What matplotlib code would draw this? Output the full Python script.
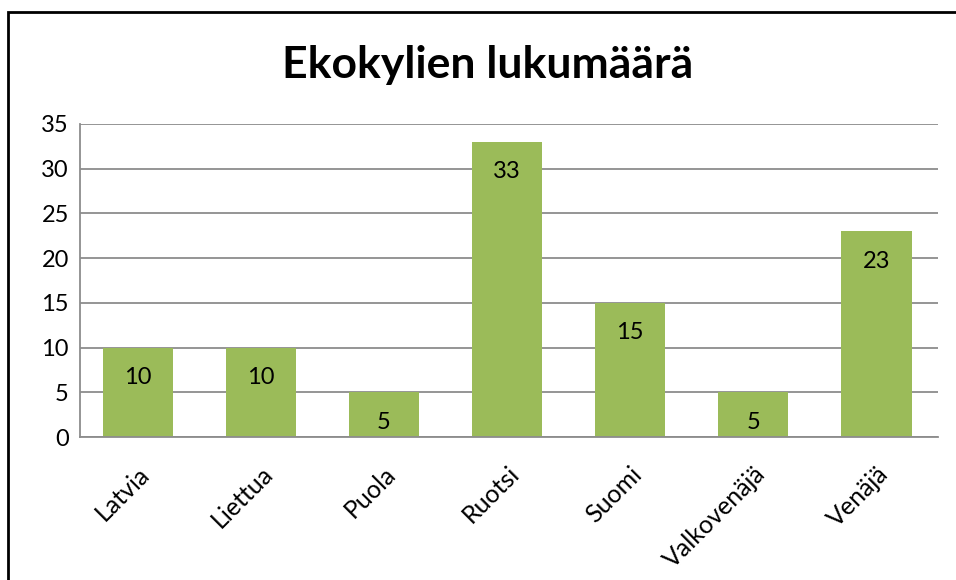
import matplotlib.pyplot as plt
from matplotlib.patches import Rectangle
import numpy as np

# data
countries = ["Latvia", "Liettua", "Puola", "Ruotsi", "Suomi", "Valkovenäjä", "Venäjä"]
counts = [10, 10, 5, 33, 15, 5, 23]
yticks = [0, 5, 10, 15, 20, 25, 30, 35]
title = "Ekokylien lukumäärä"

plt.rcParams['font.family'] = ['Lato', 'DejaVu Sans']

W, H = 956, 580
fig = plt.figure(figsize=(W / 100, H / 100), dpi=100)

# chart frame (cropped on right and bottom)
fig.patches.append(Rectangle((8 / W, -0.2), 2, 1.2 - 12 / H, transform=fig.transFigure,
                             fill=False, edgecolor="black", linewidth=2))

ax = fig.add_axes([80 / W, (H - 437) / H, (938 - 80) / W, (437 - 124) / H])

x = np.arange(len(countries))
bars = ax.bar(x, counts, width=0.57, color="#9BBB59", zorder=2)

ax.set_xlim(-0.47, len(countries) - 0.5)
ax.set_ylim(0, 35)
ax.set_yticks(yticks)
ax.set_yticklabels([str(t) for t in yticks], fontsize=17)
ax.grid(axis="y", color="#8c8c8c", linewidth=1.3, zorder=0)
ax.set_axisbelow(True)

for s in ["top", "right"]:
    ax.spines[s].set_visible(False)
ax.spines["left"].set_color("#8c8c8c")
ax.spines["bottom"].set_color("#8c8c8c")
ax.spines["left"].set_linewidth(1.3)
ax.spines["bottom"].set_linewidth(1.3)
ax.tick_params(axis="both", length=0, pad=8)

ax.set_xticks(x)
ax.set_xticklabels(countries, rotation=45, ha="right", rotation_mode="anchor", fontsize=18)
ax.tick_params(axis="x", pad=18)

for xi, v in zip(x, counts):
    ax.annotate(str(v), (xi, v), xytext=(0, -30), textcoords="offset pixels",
                ha="center", va="center", fontsize=17)

fig.text(488 / W, 1 - 65 / H, title, ha="center", va="center", fontsize=32, fontweight="bold")

fig.savefig("out.png", dpi=100)
